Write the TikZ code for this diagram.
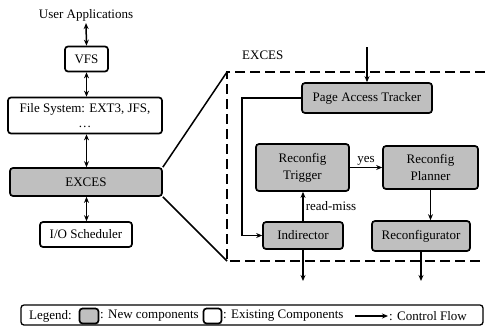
\documentclass[tikz,border=0pt]{standalone}
\usepackage{fontspec}
\setmainfont{Liberation Serif}
\usetikzlibrary{arrows.meta}
\definecolor{newgray}{HTML}{BFBFBF}
\tikzset{
  base/.style={draw, line width=1.7pt, rounded corners=3pt, inner sep=0pt, align=center,
    font=\fontsize{13}{17}\selectfont},
  newbox/.style={base, fill=newgray},
  oldbox/.style={base, fill=white},
  txt/.style={inner sep=0pt, font=\fontsize{13}{17}\selectfont},
  flow/.style={line width=1.5pt, -{Stealth[length=6pt,width=5pt]}},
  biflow/.style={line width=1.5pt, {Stealth[length=6pt,width=5pt]}-{Stealth[length=6pt,width=5pt]}},
  zoomline/.style={line width=1.5pt},
  dashedge/.style={line width=1.8pt, dash pattern=on 10pt off 5pt}
}
\begin{document}
\begin{tikzpicture}[x=1pt,y=-1pt]
\useasboundingbox (0,0) rectangle (485,333);
% left column
\node[txt] (ua) at (86,15) {User Applications};
\node[oldbox, minimum width=43pt, minimum height=25pt] (vfs) at (86.5,59) {VFS};
\node[oldbox, minimum width=154pt, minimum height=36pt] (fs) at (85,115.5) {File System: EXT3, JFS,\\[-2pt]\dots};
\node[newbox, minimum width=152pt, minimum height=28pt] (exces) at (86,182) {EXCES};
\node[oldbox, minimum width=92pt, minimum height=25pt] (io) at (86,234.5) {I/O Scheduler};
\draw[biflow] ([yshift=-2pt]ua.south) -- (vfs.north);
\draw[biflow] (vfs.south) -- (fs.north -| vfs.south);
\draw[biflow] (fs.south -| vfs.south) -- (exces.north -| vfs.south);
\draw[biflow] (exces.south -| vfs.south) -- (io.north -| vfs.south);
% zoom region
\coordinate (dtl) at (227,72);
\coordinate (dbl) at (227,261);
\coordinate (dtr) at (485,72);
\coordinate (dbr) at (485,261);
\draw[zoomline] (exces.north east) -- (dtl);
\draw[zoomline] (exces.south east) -- (dbl);
\draw[dashedge] (dtr) -- (dtl) -- (dbl) -- (dbr);
\node[txt, anchor=west] (lbl) at (242,55) {EXCES};
% right components
\node[newbox, minimum width=130pt, minimum height=30pt] (pat) at (367,98) {Page Access Tracker};
\node[newbox, minimum width=93pt, minimum height=47pt] (rt) at (302.5,167.5) {Reconfig\\Trigger};
\node[newbox, minimum width=95pt, minimum height=43pt] (rp) at (430.5,167.5) {Reconfig\\Planner};
\node[newbox, minimum width=80pt, minimum height=27pt] (ind) at (303,235.5) {Indirector};
\node[newbox, minimum width=98pt, minimum height=30pt] (rc) at (421,236) {Reconfigurator};
\coordinate (in) at (367,47);
\coordinate (o1) at (303,281);
\coordinate (o2) at (421,281);
\draw[flow] (in) -- (pat.north);
\draw[flow] (pat.west) -- ++(-59,0) |- (ind.west);
\draw[flow] (ind.north) -- (rt.south -| ind.north) node[pos=0.5, anchor=west, txt, xshift=2pt] {read-miss};
\draw[flow] (rt.east) -- (rp.west) node[pos=0.5, above, txt, yshift=1pt] {yes};
\draw[flow] (rp.south) -- (rc.north -| rp.south);
\draw[flow] (ind.south) -- (o1);
\draw[flow] (rc.south) -- (o2);
% legend
\node[draw, line width=1.3pt, rounded corners=3pt, minimum width=462pt, minimum height=20pt, inner sep=0pt] (leg) at (252,315) {};
\node[txt, anchor=west] (legt) at (29,316) {Legend:};
\node[newbox, minimum width=19pt, minimum height=15pt] (lg1) at (89,316) {};
\node[txt, anchor=west] (legn) at (100,316) {: New components};
\node[oldbox, minimum width=18pt, minimum height=15pt] (lg2) at (212.5,316) {};
\node[txt, anchor=west] (lege) at (223,316) {: Existing Components};
\coordinate (la1) at (355,316);
\coordinate (la2) at (388,316);
\draw[flow] (la1) -- (la2);
\node[txt, anchor=west] (legc) at (389,316) {: Control Flow};
\end{tikzpicture}
\end{document}
